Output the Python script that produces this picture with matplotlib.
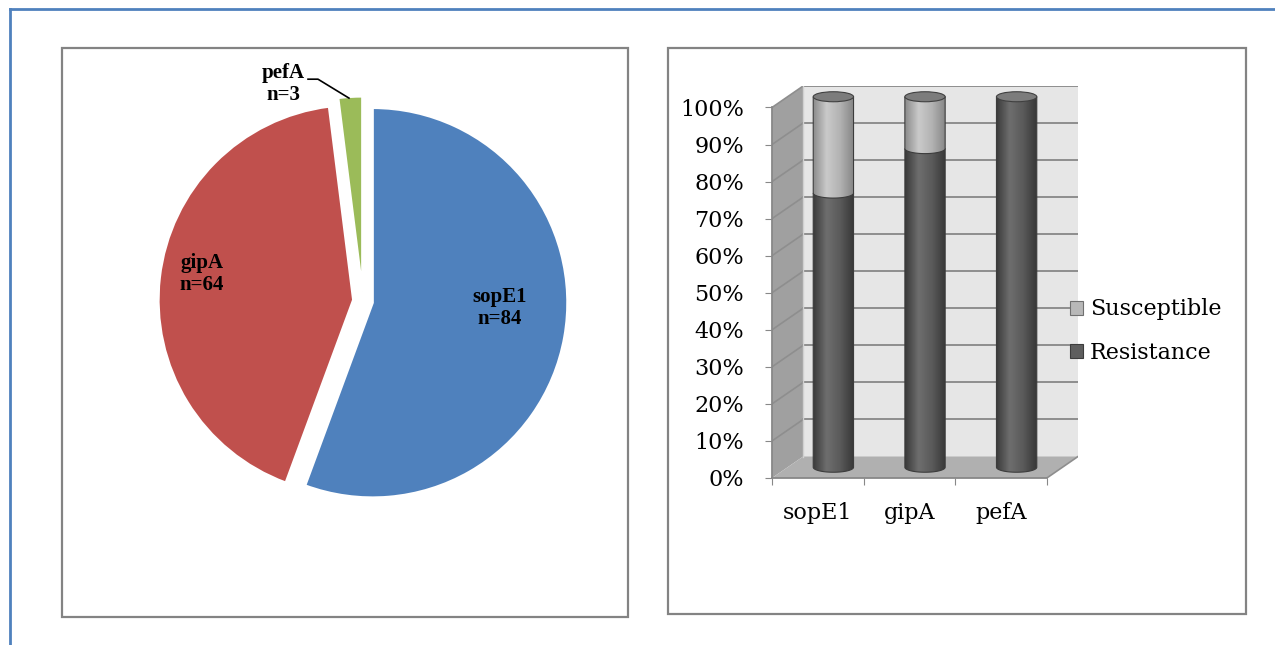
import numpy as np
import matplotlib.pyplot as plt
from matplotlib.patches import Rectangle, Polygon, Ellipse, Patch, PathPatch
from matplotlib.path import Path
from matplotlib.lines import Line2D
from matplotlib.colors import LinearSegmentedColormap

# data
genes = ["sopE1", "gipA", "pefA"]
counts = [84, 64, 3]
pie_colors = ["#4F81BD", "#C0504D", "#9BBB59"]

resistance = [74, 86, 100]
susceptible = [26, 14, 0]
pct_ticks = [0, 10, 20, 30, 40, 50, 60, 70, 80, 90, 100]

W, H = 1275, 645
fig = plt.figure(figsize=(W / 100, H / 100), dpi=100)


def box(x0, y0, x1, y1):
    # pixel box (top-left origin) -> figure fraction rect
    return [x0 / W, 1 - y1 / H, (x1 - x0) / W, (y1 - y0) / H]


# outer page frame and the two panel frames
fig.add_artist(Line2D([9.5 / W, 9.5 / W], [0, 1 - 8.5 / H], color="#4F81BD", lw=2))
fig.add_artist(Line2D([9.5 / W, 1], [1 - 8.5 / H, 1 - 8.5 / H], color="#4F81BD", lw=2))
for b in [(62, 48, 628, 617), (668, 48, 1246, 614)]:
    r = box(*b)
    fig.add_artist(Rectangle((r[0], r[1]), r[2], r[3], transform=fig.transFigure,
                             fill=False, ec="#838383", lw=1.6))

# ---------- pie ----------
ax1 = fig.add_axes(box(133, 71, 593, 531))
ax1.pie(counts, colors=pie_colors, startangle=90, counterclock=False,
        explode=[0.05, 0.05, 0.05],
        wedgeprops=dict(edgecolor="white", linewidth=1.8))
ax1.set_xlim(-1.18, 1.18)
ax1.set_ylim(-1.18, 1.18)
ax1.set_aspect("equal")
ax1.axis("off")

lab_pos = [(0.703, -0.036), (-0.826, 0.139), (-0.41, 1.113)]
for g, n, (lx, ly) in zip(genes, counts, lab_pos):
    ax1.text(lx, ly, f"{g}\nn={n}", ha="center", va="center", family="Liberation Serif",
             fontweight="bold", fontsize=15, linespacing=1.08)
ax1.plot([-0.282, -0.231, -0.072], [1.138, 1.138, 1.041], color="black", lw=1.2, clip_on=False)

# ---------- pseudo 3D cylinder chart ----------
ax2 = fig.add_axes(box(772, 86, 1078, 478))
dx, dy = 0.34, 5.8
ax2.set_facecolor("none")

ax2.add_patch(Polygon([(dx, dy), (3 + dx, dy), (3 + dx, 100 + dy), (dx, 100 + dy)],
                      closed=True, fc="#E6E6E6", ec="none", zorder=0))
ax2.add_patch(Polygon([(0, 0), (dx, dy), (dx, 100 + dy), (0, 100)],
                      closed=True, fc="#A0A0A0", ec="none", zorder=0))
ax2.add_patch(Polygon([(0, 0), (3, 0), (3 + dx, dy), (dx, dy)],
                      closed=True, fc="#B0B0B0", ec="none", zorder=0.5))
for t in pct_ticks[1:]:
    ax2.plot([dx, 3 + dx], [t + dy, t + dy], color="#8E8E8E", lw=1.4, zorder=1)
    ax2.plot([0, dx], [t, t + dy], color="#8E8E8E", lw=1.2, zorder=1)
ax2.plot([3, 3 + dx], [0, dy], color="#8E8E8E", lw=1.2, zorder=1)
ax2.plot([dx, dx], [dy, 100 + dy], color="#D0D0D0", lw=1, zorder=1)

cw = 0.44
eh = 2.7
res_cmap = LinearSegmentedColormap.from_list("res", ["#3A3A3A", "#6E6E6E", "#5A5A5A", "#383838"])
sus_cmap = LinearSegmentedColormap.from_list("sus", ["#8C8C8C", "#CACACA", "#B2B2B2", "#868686"])
grad = np.linspace(0, 1, 64).reshape(1, -1)


def segment(xc, y0, y1, cmap, z):
    th = np.linspace(np.pi, 2 * np.pi, 40)
    arc = np.column_stack([xc + cw / 2 * np.cos(th), y0 + eh / 2 * np.sin(th)])
    verts = np.vstack([[xc - cw / 2, y1], arc, [xc + cw / 2, y1], [xc - cw / 2, y1]])
    path = Path(verts)
    clip = PathPatch(path, transform=ax2.transData, fc="none", ec="none")
    ax2.add_patch(clip)
    im = ax2.imshow(grad, cmap=cmap, extent=[xc - cw / 2, xc + cw / 2, y0 - eh / 2, y1],
                    aspect="auto", zorder=z, interpolation="bilinear")
    im.set_clip_path(clip)
    ax2.add_patch(PathPatch(path, fc="none", ec="#3C3C3C", lw=0.8, zorder=z + 0.1))


for i, (r, s) in enumerate(zip(resistance, susceptible)):
    xc = i + 0.5 + dx / 2
    yb = dy / 2
    segment(xc, yb, yb + r, res_cmap, 3)
    if s > 0:
        segment(xc, yb + r, yb + r + s, sus_cmap, 4)
    top = yb + r + s
    ax2.add_patch(Ellipse((xc, top), cw, eh, fc="#7C7C7C", ec="#404040", lw=0.8, zorder=5))

ax2.set_xlim(0, 3 + dx)
ax2.set_ylim(0, 100 + dy)

for sp in ["top", "right"]:
    ax2.spines[sp].set_visible(False)
ax2.spines["left"].set_bounds(0, 100)
ax2.spines["bottom"].set_bounds(0, 3)
for sp in ["left", "bottom"]:
    ax2.spines[sp].set_color("#888888")
    ax2.spines[sp].set_linewidth(1.3)

ax2.set_yticks(pct_ticks)
ax2.set_yticklabels([f"{t}%" for t in pct_ticks])
ax2.set_xticks([0, 1, 2, 3])
ax2.set_xticklabels([])
ax2.set_xticks([0.5, 1.5, 2.5], minor=True)
ax2.set_xticklabels(genes, minor=True)
ax2.tick_params(axis="y", length=5, color="#888888", pad=15)
ax2.tick_params(axis="x", which="major", length=5, color="#888888")
ax2.tick_params(axis="x", which="minor", length=0, pad=17)
for lb in ax2.get_yticklabels() + ax2.get_xticklabels(minor=True):
    lb.set_family("DejaVu Serif")
    lb.set_fontsize(16)

handles = [Patch(fc="#B8B8B8", ec="#707070", lw=0.8), Patch(fc="#5E5E5E", ec="#3C3C3C", lw=0.8)]
fig.legend(handles, ["Susceptible", "Resistance"], loc="center left",
           bbox_to_anchor=(1050 / W, 1 - 331 / H), frameon=False,
           handlelength=0.6, handleheight=0.6, handletextpad=0.3, labelspacing=0.95,
           prop={"family": "DejaVu Serif", "size": 16})

fig.savefig("out.png", dpi=100)
